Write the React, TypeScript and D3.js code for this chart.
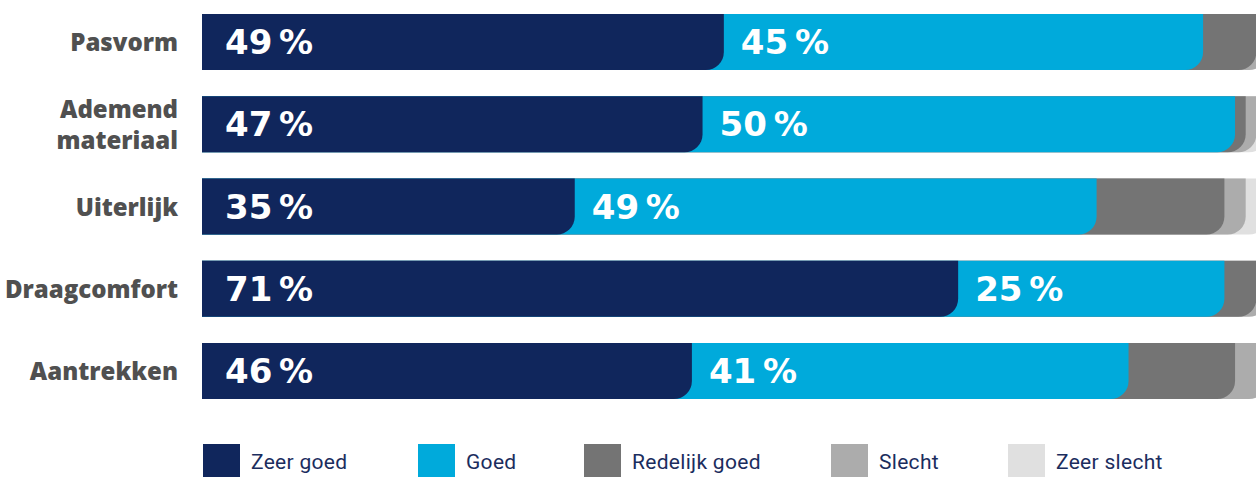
import React from "react";
import * as d3 from "d3";

const categories = ["Pasvorm", "Ademend materiaal", "Uiterlijk", "Draagcomfort", "Aantrekken"];
const seriesNames = ["Zeer goed", "Goed", "Redelijk goed", "Slecht", "Zeer slecht"];
const zeerGoed = [49, 47, 35, 71, 46];
const goed = [45, 50, 49, 25, 41];
const redelijkGoed = [5, 1, 12, 3, 10];
const slecht = [1, 1, 2, 1, 3];
const zeerSlecht = [0, 1, 2, 0, 0];
const colors = ["#10265c", "#00aadb", "#747474", "#acacac", "#e0e0e0"];
const legendX = [203, 418, 584, 831, 1008];

const W = 1256;
const H = 477;

function roundedBR(x0: number, y0: number, x1: number, y1: number, r: number) {
  const rr = Math.max(0, Math.min(r, x1 - x0, y1 - y0));
  return `M${x0},${y0}H${x1}V${y1 - rr}A${rr},${rr} 0 0 1 ${x1 - rr},${y1}H${x0}Z`;
}

export default function App() {
  const rows = categories.map((c, i) => ({
    cat: c,
    vals: [zeerGoed[i], goed[i], redelijkGoed[i], slecht[i], zeerSlecht[i]],
  }));
  const keys = seriesNames;
  const table = rows.map((r) => {
    const o: any = { cat: r.cat };
    keys.forEach((k, j) => (o[k] = r.vals[j]));
    return o;
  });
  const stacked = d3.stack<any>().keys(keys)(table);

  const x = d3.scaleLinear().domain([0, 100]).range([202, 1267]);
  const y = d3.scaleBand<string>().domain(categories).range([14, 399]).paddingInner(0.319).paddingOuter(0);
  const bh = y.bandwidth();

  return (
    <svg width={W} height={H} style={{ position: "absolute", left: 0, top: 0 }} xmlns="http://www.w3.org/2000/svg">
      <rect width={W} height={H} fill="#fff" />
      {stacked
        .slice()
        .reverse()
        .map((s) => (
          <g key={s.key}>
            {s.map((d, i) => {
              const v = d[1] - d[0];
              if (v <= 0) return null;
              const y0 = y(categories[i]) as number;
              return (
                <path
                  key={i}
                  d={roundedBR(x(0), y0, x(d[1]), y0 + bh, 18)}
                  fill={colors[keys.indexOf(s.key)]}
                />
              );
            })}
          </g>
        ))}
      {stacked.slice(0, 2).map((s, si) => (
        <g key={"lab" + s.key}>
          {s.map((d, i) => {
            const y0 = y(categories[i]) as number;
            const v = d[1] - d[0];
            const lx = si === 0 ? x(d[0]) + 23 : x(d[0]) + 17;
            return (
              <text
                key={i}
                x={lx}
                y={y0 + bh / 2 + 12}
                fill="#fff"
                fontFamily="'DejaVu Sans', sans-serif"
                fontWeight={700}
                fontSize={34}
              >
                {`${v}\u2009%`}
              </text>
            );
          })}
        </g>
      ))}
      {categories.map((c, i) => {
        const cy = (y(c) as number) + bh / 2;
        const lines = c === "Ademend materiaal" ? ["Ademend", "materiaal"] : [c];
        return (
          <text
            key={c}
            x={178}
            textAnchor="end"
            fill="#505050"
            fontFamily="'Open Sans', sans-serif"
            fontWeight={800}
            fontSize={24}
          >
            {lines.map((l, k) => (
              <tspan key={k} x={178} y={cy + 9 + (k - (lines.length - 1) / 2) * 31}>
                {l}
              </tspan>
            ))}
          </text>
        );
      })}
      {seriesNames.map((n, i) => (
        <g key={n}>
          <path d={roundedBR(legendX[i], 444, legendX[i] + 37, 481, 5)} fill={colors[i]} />
          <text
            x={legendX[i] + 48}
            y={469}
            fill="#1b2d5e"
            fontFamily="Roboto, sans-serif"
            fontSize={21}
            letterSpacing={0.3}
          >
            {n}
          </text>
        </g>
      ))}
    </svg>
  );
}
